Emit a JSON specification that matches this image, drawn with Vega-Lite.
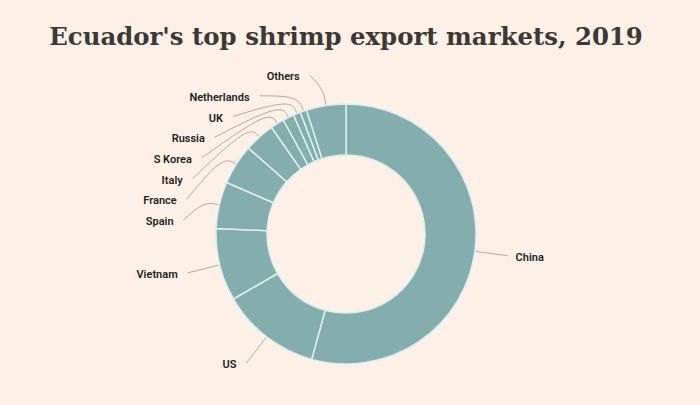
{
  "$schema": "https://vega.github.io/schema/vega-lite/v6.json",
  "width": 692,
  "height": 342,
  "autosize": "none",
  "padding": {"left": 0, "top": 63, "right": 8, "bottom": 0},
  "background": "#fdf1e7",
  "title": {
    "text": "Ecuador's top shrimp export markets, 2019",
    "font": "DejaVu Serif",
    "fontSize": 24.4,
    "fontWeight": "bold",
    "color": "#3b3835",
    "anchor": "middle",
    "offset": 13
  },
  "config": {"view": {"stroke": null}},
  "data": {
    "values": [
      {"market": "China", "share": 54.2},
      {"market": "US", "share": 12.4},
      {"market": "Vietnam", "share": 9.0},
      {"market": "Spain", "share": 5.8},
      {"market": "France", "share": 5.0},
      {"market": "Italy", "share": 3.8},
      {"market": "S Korea", "share": 1.7},
      {"market": "Russia", "share": 1.4},
      {"market": "UK", "share": 0.9},
      {"market": "Netherlands", "share": 0.8},
      {"market": "Others", "share": 4.9}
    ]
  },
  "transform": [
    {"window": [{"op": "row_number", "as": "i"}]},
    {"joinaggregate": [{"op": "sum", "field": "share", "as": "total"}]},
    {"window": [{"op": "sum", "field": "share", "as": "cum"}], "sort": [{"field": "i"}], "frame": [null, 0]},
    {"calculate": "(datum.cum - datum.share / 2) / datum.total * 2 * PI", "as": "m"},
    {"calculate": "131 * sin(datum.m)", "as": "x0"},
    {"calculate": "131 * cos(datum.m)", "as": "y0"},
    {"calculate": "146 * sin(datum.m)", "as": "x1"},
    {"calculate": "146 * cos(datum.m)", "as": "y1"},
    {"calculate": "datum.i >= 4 ? 14 + 20.7 * (datum.i - 4) : 163 * cos(datum.m)", "as": "y2"},
    {"calculate": "datum.i >= 4 ? -sqrt(163 * 163 - datum.y2 * datum.y2) : 163 * sin(datum.m)", "as": "x2"},
    {"calculate": "datum.x2 < 0 ? datum.x2 - 10 : datum.x2 + 8", "as": "tx"},
    {"calculate": "datum.y2 - 2", "as": "ty"}
  ],
  "layer": [
    {
      "mark": {"type": "arc", "innerRadius": 79, "outerRadius": 130, "fill": "#84aeae", "stroke": "#dcf0ef", "strokeWidth": 1.5},
      "encoding": {
        "theta": {"field": "share", "type": "quantitative", "stack": true},
        "order": {"field": "i", "type": "quantitative"}
      }
    },
    {
      "transform": [
        {"fold": ["x0", "x1", "x2"], "as": ["pt", "lx"]},
        {"calculate": "datum.pt == 'x0' ? datum.y0 : (datum.pt == 'x1' ? datum.y1 : datum.y2)", "as": "ly"}
      ],
      "mark": {"type": "line", "interpolate": "basis", "color": "#aeaaa5", "strokeWidth": 1},
      "encoding": {
        "x": {"field": "lx", "type": "quantitative", "scale": {"domain": [-346, 346], "nice": false, "zero": false}, "axis": null},
        "y": {"field": "ly", "type": "quantitative", "scale": {"domain": [-171, 171], "nice": false, "zero": false}, "axis": null},
        "detail": {"field": "market"},
        "order": {"field": "pt", "type": "ordinal"}
      }
    },
    {
      "transform": [{"filter": "datum.x2 < 0"}],
      "mark": {"type": "text", "align": "right", "baseline": "middle", "font": "Roboto", "fontSize": 11, "fontWeight": 600, "color": "#1e1e1e"},
      "encoding": {
        "x": {"field": "tx", "type": "quantitative", "scale": {"domain": [-346, 346], "nice": false, "zero": false}, "axis": null},
        "y": {"field": "ty", "type": "quantitative", "scale": {"domain": [-171, 171], "nice": false, "zero": false}, "axis": null},
        "text": {"field": "market"}
      }
    },
    {
      "transform": [{"filter": "datum.x2 >= 0"}],
      "mark": {"type": "text", "align": "left", "baseline": "middle", "font": "Roboto", "fontSize": 11, "fontWeight": 600, "color": "#1e1e1e"},
      "encoding": {
        "x": {"field": "tx", "type": "quantitative", "scale": {"domain": [-346, 346], "nice": false, "zero": false}, "axis": null},
        "y": {"field": "ty", "type": "quantitative", "scale": {"domain": [-171, 171], "nice": false, "zero": false}, "axis": null},
        "text": {"field": "market"}
      }
    }
  ]
}
